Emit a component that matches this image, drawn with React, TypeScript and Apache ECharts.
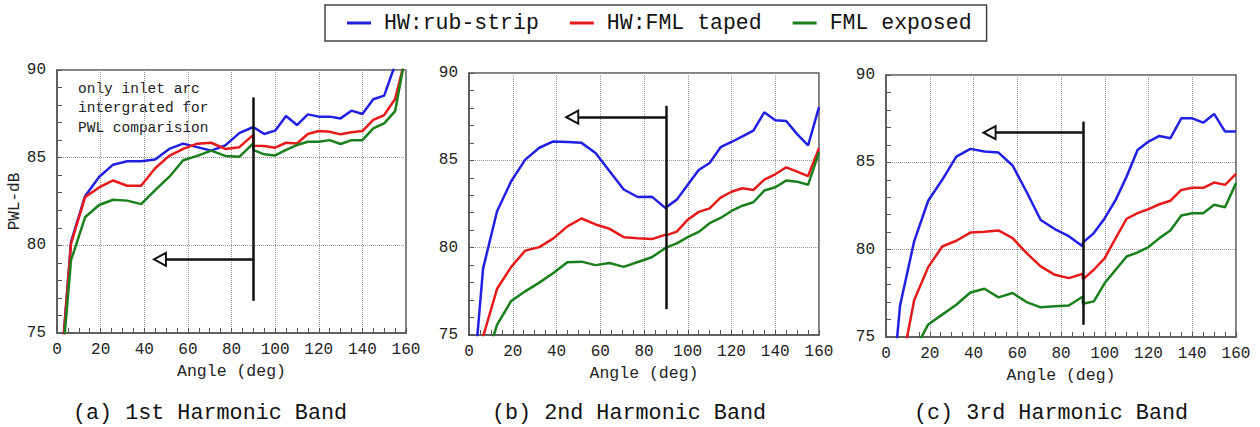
import React, { useEffect, useRef } from "react";
import * as echarts from "echarts";

// Angles (deg): inlet arc sampled in 14 steps, then outlet in 5-degree steps
const anglesInlet = [0, 6.43, 12.86, 19.29, 25.71, 32.14, 38.57, 45, 51.43, 57.86, 64.29, 70.71, 77.14, 83.57, 90];
const anglesOutlet = [90, 95, 100, 105, 110, 115, 120, 125, 130, 135, 140, 145, 150, 155, 160];

// (a) 1st harmonic band
const aRubStrip = [70, 80.2, 82.8, 83.9, 84.6, 84.8, 84.8, 84.9, 85.5, 85.8, 85.6, 85.4, 85.7, 86.4, 86.75,
  86.75, 86.35, 86.54, 87.38, 86.86, 87.47, 87.34, 87.34, 87.24, 87.68, 87.49, 88.33, 88.54, 90.3, 93];
const aFmlTaped = [70, 80.1, 82.75, 83.3, 83.7, 83.4, 83.4, 84.4, 85.1, 85.5, 85.8, 85.85, 85.5, 85.6, 86.3,
  85.68, 85.66, 85.57, 85.85, 85.81, 86.35, 86.52, 86.48, 86.33, 86.45, 86.52, 87.15, 87.43, 88.35, 90.8];
const aFmlExposed = [69.8, 79.15, 81.6, 82.3, 82.6, 82.55, 82.35, 83.15, 83.9, 84.85, 85.1, 85.4, 85.1, 85.05, 85.82,
  85.44, 85.19, 85.13, 85.44, 85.72, 85.91, 85.91, 86.0, 85.78, 86.0, 86.0, 86.67, 86.96, 87.65, 91];

// (b) 2nd harmonic band
const bRubStrip = [69.3, 78.8, 82.1, 83.8, 85.04, 85.72, 86.08, 86.05, 86.0, 85.42, 84.37, 83.33, 82.9, 82.92, 82.25,
  82.3, 82.75, 83.6, 84.45, 84.85, 85.75, 86.05, 86.37, 86.7, 87.75, 87.3, 87.25, 86.5, 85.85, 88.05];
const bFmlTaped = [71, 74.9, 77.65, 78.9, 79.83, 80.03, 80.53, 81.22, 81.67, 81.33, 81.08, 80.6, 80.54, 80.49, 80.75,
  80.7, 80.92, 81.6, 82.05, 82.25, 82.86, 83.2, 83.4, 83.3, 83.9, 84.2, 84.6, 84.35, 84.1, 85.7];
const bFmlExposed = [70, 73.0, 75.6, 76.95, 77.5, 78.0, 78.55, 79.17, 79.2, 79.0, 79.12, 78.9, 79.18, 79.45, 80.0,
  80.0, 80.25, 80.6, 80.9, 81.4, 81.7, 82.1, 82.4, 82.6, 83.27, 83.46, 83.84, 83.78, 83.6, 85.45];

// (c) 3rd harmonic band
const cRubStrip = [68, 76.8, 80.47, 82.8, 84.0, 85.33, 85.77, 85.62, 85.56, 84.82, 83.3, 81.7, 81.18, 80.77, 80.18,
  80.4, 80.95, 81.8, 82.85, 84.19, 85.71, 86.19, 86.51, 86.38, 87.52, 87.52, 87.27, 87.77, 86.76, 86.76];
const cFmlTaped = [68, 72.9, 77.1, 79.0, 80.18, 80.51, 80.98, 81.03, 81.1, 80.66, 79.8, 79.04, 78.56, 78.37, 78.62,
  78.3, 78.85, 79.52, 80.66, 81.77, 82.09, 82.32, 82.6, 82.8, 83.42, 83.54, 83.54, 83.84, 83.71, 84.34];
const cFmlExposed = [68, 71.5, 74.2, 75.72, 76.28, 76.85, 77.55, 77.76, 77.27, 77.52, 77.0, 76.7, 76.76, 76.8, 77.32,
  76.9, 77.04, 78.09, 78.85, 79.61, 79.84, 80.15, 80.66, 81.1, 81.96, 82.09, 82.09, 82.57, 82.43, 83.81];

const seriesNames = ["HW:rub-strip", "HW:FML taped", "FML exposed"];
const seriesColors = ["#2020e2", "#e61a1a", "#1a7f1c"];
const panelTitles = ["(a) 1st Harmonic Band", "(b) 2nd Harmonic Band", "(c) 3rd Harmonic Band"];

// annotation positions in data units: [x, yTop, yBottom], arrow [y, tipX, baseX]
const vLines = [[90, 88.44, 76.84], [90, 88.12, 76.48], [90, 87.33, 75.7]];
const arrows = [[79.2, 44.5, 49.9], [87.47, 44.5, 49.9], [86.7, 44.7, 50.0]];

const FONT = "'Liberation Mono', 'DejaVu Sans Mono', monospace";

const grids = [
  { left: 57, top: 70, width: 349, height: 263 },
  { left: 469, top: 73, width: 350, height: 262 },
  { left: 886, top: 75, width: 350, height: 262 },
];
const titleCenters = [210, 629, 1051];

export default function App() {
  const ref = useRef<HTMLDivElement>(null);
  useEffect(() => {
    if (!ref.current) return;
    const chart = echarts.init(ref.current, undefined, { renderer: "svg" });
    const angles = [...anglesInlet, ...anglesOutlet];
    const panelData = [
      [aRubStrip, aFmlTaped, aFmlExposed],
      [bRubStrip, bFmlTaped, bFmlExposed],
      [cRubStrip, cFmlTaped, cFmlExposed],
    ];

    const xAxes = grids.map((_, i) => ({
      type: "value",
      gridIndex: i,
      min: 0,
      max: 160,
      interval: 20,
      name: "Angle (deg)",
      nameLocation: "middle",
      nameGap: 29,
      nameTextStyle: { fontFamily: FONT, fontSize: 16.5, color: "#222" },
      axisLine: { show: true, lineStyle: { color: "#555", width: 1.5 } },
      axisTick: { show: true, inside: true, length: 5, lineStyle: { color: "#555" } },
      minorTick: { show: true, splitNumber: 4, length: 5, lineStyle: { color: "#555" } },
      axisLabel: { fontFamily: FONT, fontSize: 16, color: "#222", margin: 9 },
      splitLine: { show: true, lineStyle: { type: "dotted", color: "#999", width: 1 } },
    }));
    const yAxes = grids.map((_, i) => ({
      type: "value",
      gridIndex: i,
      min: 75,
      max: 90,
      interval: 5,
      name: i === 0 ? "PWL-dB" : "",
      nameLocation: "middle",
      nameGap: 31,
      nameTextStyle: { fontFamily: FONT, fontSize: 16, color: "#222" },
      axisLine: { show: true, lineStyle: { color: "#555", width: 1.5 } },
      axisTick: { show: true, inside: true, length: 5, lineStyle: { color: "#555" } },
      minorTick: { show: true, splitNumber: 5, length: 5, lineStyle: { color: "#555" } },
      axisLabel: { fontFamily: FONT, fontSize: 16, color: "#222", margin: 11 },
      splitLine: { show: true, lineStyle: { type: "dotted", color: "#999", width: 1 } },
    }));

    const series: any[] = [];
    panelData.forEach((sets, p) => {
      sets.forEach((vals, s) => {
        const item: any = {
          type: "line",
          name: seriesNames[s],
          xAxisIndex: p,
          yAxisIndex: p,
          data: angles.map((x, k) => [x, vals[k]]),
          showSymbol: false,
          symbol: "none",
          clip: true,
          lineStyle: { color: seriesColors[s], width: 2.5 },
          itemStyle: { color: seriesColors[s] },
          z: 2 + s,
        };
        if (s === 2) {
          const [vx, vTop, vBot] = vLines[p];
          const [ay, tipX, baseX] = arrows[p];
          const center = (tipX + baseX) / 2;
          item.markLine = {
            silent: true,
            symbol: ["none", "none"],
            label: { show: false },
            lineStyle: { color: "#111", width: 2.5, type: "solid" },
            data: [
              [{ coord: [vx, vTop] }, { coord: [vx, vBot] }],
              [{ coord: [vx, ay] }, { coord: [baseX, ay] }],
            ],
            z: 10,
          };
          item.markPoint = {
            silent: true,
            label: { show: false },
            data: [
              {
                coord: [center, ay],
                symbol: "triangle",
                symbolSize: [13, 12],
                symbolRotate: 90,
                itemStyle: { color: "#fff", borderColor: "#111", borderWidth: 2 },
              },
            ],
            z: 10,
          };
        }
        series.push(item);
      });
    });

    const graphic: any[] = panelTitles.map((t, i) => ({
      type: "text",
      x: titleCenters[i],
      y: 413,
      style: {
        text: t,
        fontFamily: FONT,
        fontSize: 21.75,
        fill: "#111",
        align: "center",
        verticalAlign: "middle",
      },
    }));
    graphic.push({
      type: "text",
      x: 78,
      y: 79,
      style: {
        text: "only inlet arc\nintergrated for\nPWL comparision",
        fontFamily: FONT,
        fontSize: 14.5,
        lineHeight: 19.5,
        fill: "#222",
        align: "left",
        verticalAlign: "top",
      },
    });

    chart.setOption({
      animation: false,
      backgroundColor: "#fff",
      grid: grids.map((g) => ({ ...g, show: true, borderColor: "#555", borderWidth: 1.5, backgroundColor: "transparent" })),
      xAxis: xAxes,
      yAxis: yAxes,
      legend: {
        data: seriesNames,
        left: 325,
        top: 5,
        orient: "horizontal",
        icon: "rect",
        itemWidth: 24,
        itemHeight: 3,
        itemGap: 31,
        padding: [7, 15, 7, 22],
        borderColor: "#444",
        borderWidth: 1.5,
        textStyle: { fontFamily: FONT, fontSize: 21.5, color: "#111", padding: [0, 0, 0, 8] },
        selectedMode: false,
      },
      series,
      graphic,
    });
    return () => chart.dispose();
  }, []);
  return <div ref={ref} style={{ position: "fixed", left: 0, top: 0, width: 1260, height: 427 }} />;
}
